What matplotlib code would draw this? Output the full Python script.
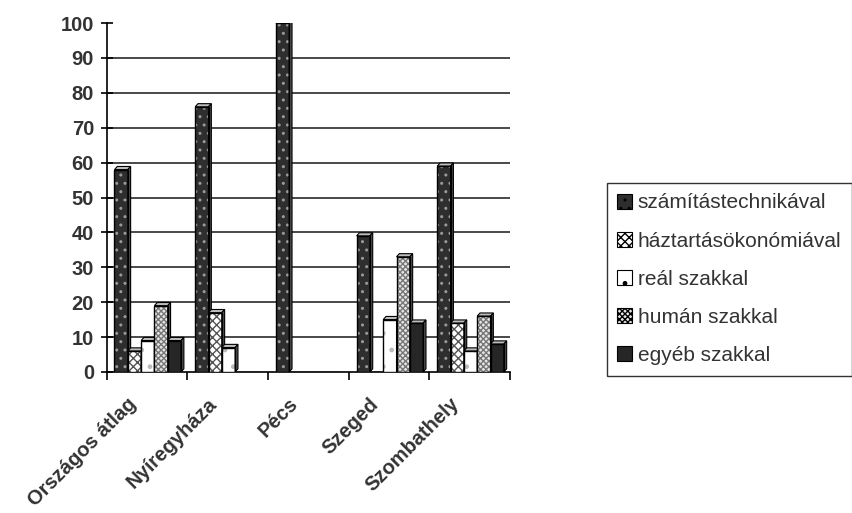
import matplotlib.pyplot as plt
import matplotlib.transforms as mtransforms
import numpy as np
from matplotlib.patches import Polygon

plt.rcParams['font.family'] = ['Liberation Sans', 'DejaVu Sans']
plt.rcParams['hatch.linewidth'] = 1.0

cities = ['Országos átlag', 'Nyíregyháza', 'Pécs', 'Szeged', 'Szombathely']
series = ['számítástechnikával', 'háztartásökonómiával', 'reál szakkal',
          'humán szakkal', 'egyéb szakkal']
szamtech = [58, 76, 100, 39, 59]
haztartas = [6, 17, 0, 0, 14]
real = [9, 7, 0, 15, 6]
human = [19, 0, 0, 33, 16]
egyeb = [9, 0, 0, 14, 8]
values = [szamtech, haztartas, real, human, egyeb]

# face colour, hatch, hatch colour for each series
styles = [
    ('#2e2e2e', '..', '#9a9a9a'),
    ('#ffffff', 'xxxx', '#555555'),
    ('#ffffff', '.', '#bbbbbb'),
    ('#e6e6e6', 'xxxxxx', '#777777'),
    ('#262626', '', '#262626'),
]

fig = plt.figure(figsize=(8.53, 5.13), dpi=100)
ax = fig.add_axes([0.125, 0.275, 0.473, 0.68])

x = np.arange(len(cities))
w = 0.165
offs = (np.arange(5) - 2) * w + 0.01
dx, dy = 0.035, 0.9

handles = []
for i, (vals, (fc, hatch, hc)) in enumerate(zip(values, styles)):
    xs = x + offs[i]
    b = ax.bar(xs, vals, w, color=fc, hatch=hatch, edgecolor=hc,
               linewidth=0, zorder=3 + i * 0.1)
    ax.bar(xs, vals, w, fill=False, edgecolor='black', linewidth=1.0,
           zorder=3.05 + i * 0.1)
    # small depth faces on top and right side
    for xc, v in zip(xs, vals):
        if v <= 0:
            continue
        l, r = xc - w / 2, xc + w / 2
        top = Polygon([(l, v), (l + dx, v + dy), (r + dx, v + dy), (r, v)],
                      closed=True, facecolor='#bdbdbd', edgecolor='black',
                      linewidth=0.8, zorder=3.02 + i * 0.1)
        side = Polygon([(r, 0), (r, v), (r + dx, v + dy), (r + dx, dy)],
                       closed=True, facecolor='#555555', edgecolor='black',
                       linewidth=0.8, zorder=3.02 + i * 0.1)
        ax.add_patch(top)
        ax.add_patch(side)
    handles.append(b)

ax.set_xlim(-0.5, 4.5)
ax.set_ylim(0, 100)
ax.set_yticks(range(0, 101, 10))
ax.tick_params(axis='y', direction='inout', length=8, width=1.2,
               labelsize=14.5, pad=5)
for lab in ax.get_yticklabels():
    lab.set_fontweight('bold')
    lab.set_color('#333333')

ax.set_xticks(np.arange(-0.5, 5, 1.0))
ax.set_xticklabels([])
ax.set_xticks(x, minor=True)
ax.set_xticklabels(cities, minor=True, rotation=45, ha='right', va='top',
                   rotation_mode='anchor', fontsize=14.5, fontweight='bold',
                   color='#333333')
ax.tick_params(axis='x', which='major', direction='out', length=6, width=1.2)
ax.tick_params(axis='x', which='minor', length=0, pad=16)
shift = mtransforms.ScaledTranslation(-20 / 100, 0, fig.dpi_scale_trans)
for lab in ax.get_xticklabels(minor=True):
    lab.set_transform(lab.get_transform() + shift)

for yv in range(10, 100, 10):
    ax.axhline(yv, color='#3a3a3a', linewidth=1.3, zorder=1)

for s in ['top', 'right']:
    ax.spines[s].set_visible(False)
ax.spines['left'].set_linewidth(1.2)
ax.spines['bottom'].set_linewidth(1.2)

leg = fig.legend(handles, series, loc='upper left',
                 bbox_to_anchor=(607 / 853, 1 - 183 / 513), borderaxespad=0,
                 fontsize=15, frameon=True, fancybox=False, edgecolor='black',
                 handlelength=0.72, handleheight=0.72, handletextpad=0.25,
                 labelspacing=0.92, borderpad=0.5)
leg.get_frame().set_linewidth(1.0)
for t in leg.get_texts():
    t.set_color('#333333')
for h in leg.legend_handles:
    h.set_edgecolor('black')
    h.set_linewidth(0.8)

fig.savefig('out.png', dpi=100)
